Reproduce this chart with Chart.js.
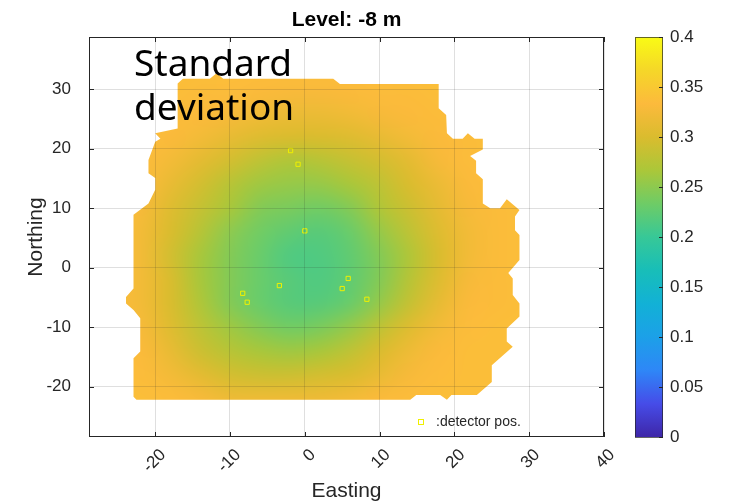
<!DOCTYPE html>
<html>
<head>
<meta charset="utf-8">
<script src="https://cdn.jsdelivr.net/npm/chart.js@4/dist/chart.umd.min.js"></script>
<style>
  html, body { margin: 0; padding: 0; background: #fff; }
  #chart { display: block; }
</style>
</head>
<body>
<canvas id="chart" width="731" height="504"></canvas>
<script>
// --- DATA ---
const eastingTicks = [-20, -10, 0, 10, 20, 30, 40];
const northingTicks = [-20, -10, 0, 10, 20, 30];
const colorTicks = [0, 0.05, 0.1, 0.15, 0.2, 0.25, 0.3, 0.35, 0.4];

// detector positions (m)
const detectorEasting  = [-1.9, -0.9, 0.0, -3.4, -8.3, -7.7, 5.8, 5.0, 8.3];
const detectorNorthing = [19.7, 17.4, 6.2, -3.0, -4.3, -5.8, -1.8, -3.5, -5.3];

// standard deviation sampled on a 4 m grid (rows run north to south)
const gridEasting  = [-26, -22, -18, -14, -10, -6, -2, 2, 6, 10, 14, 18, 22, 26, 30];
const gridNorthing = [34, 30, 26, 22, 18, 14, 10, 6, 2, -2, -6, -10, -14, -18, -22, -26];
const stdRows = [
  [.338, .338, .338, .338, .338, .338, .338, .338, .338, .338, .338, .338, .338, .338, .338],
  [.338, .338, .338, .336, .335, .332, .33, .33, .332, .335, .336, .338, .338, .338, .338],
  [.338, .338, .336, .332, .328, .322, .318, .318, .322, .328, .332, .336, .338, .338, .338],
  [.338, .336, .332, .324, .314, .304, .30, .30, .304, .314, .324, .332, .336, .338, .338],
  [.338, .335, .324, .31, .295, .28, .27, .275, .285, .295, .31, .328, .335, .338, .338],
  [.338, .332, .315, .295, .275, .26, .255, .255, .265, .28, .30, .318, .332, .338, .338],
  [.336, .328, .305, .285, .265, .245, .24, .235, .245, .27, .29, .312, .328, .336, .338],
  [.336, .324, .30, .275, .25, .235, .225, .22, .23, .255, .28, .305, .324, .336, .338],
  [.336, .324, .295, .265, .245, .23, .215, .215, .225, .245, .27, .30, .324, .336, .338],
  [.336, .324, .30, .265, .245, .23, .22, .215, .225, .245, .275, .305, .328, .336, .338],
  [.336, .324, .30, .27, .245, .23, .22, .22, .23, .255, .285, .314, .332, .336, .338],
  [.336, .328, .305, .28, .26, .245, .235, .24, .255, .28, .305, .324, .335, .338, .338],
  [.338, .332, .315, .29, .275, .265, .26, .265, .28, .30, .32, .332, .338, .338, .338],
  [.338, .335, .324, .31, .295, .29, .29, .295, .30, .315, .328, .335, .338, .338, .338],
  [.338, .338, .335, .328, .32, .32, .32, .32, .324, .332, .335, .338, .338, .338, .338],
  [.338, .338, .338, .338, .338, .338, .338, .338, .338, .338, .338, .338, .338, .338, .338]
];

// outline of the covered area (easting, northing), clockwise from the north-west
const outlineEasting = [
  -17.0, -16.3, -12.7, -11.8, -10.9, 3.8, 4.7, 17.9, 17.9, 18.9, 19.0, 19.8, 21.1, 21.8,
  22.7, 23.8, 23.8, 22.1, 22.9, 22.9, 23.8, 23.8, 24.8, 26.1, 27.0, 28.7, 28.1, 28.1,
  28.7, 28.7, 27.2, 27.8, 27.8, 28.7, 28.7, 27.0, 27.0, 27.8, 25.0, 25.0, 23.0, 19.6,
  19.0, 18.1, 14.9, 14.1, -22.5, -22.9, -22.9, -22.0, -22.0, -22.9, -23.9, -23.9, -22.9,
  -22.9, -20.9, -20.0, -20.0, -20.9, -20.9, -20.0, -19.3, -20.0, -17.0
];
const outlineNorthing = [
  31.0, 31.8, 31.8, 32.7, 31.8, 31.8, 30.9, 30.9, 26.8, 25.7, 22.6, 21.7, 21.7, 22.6,
  21.7, 21.7, 19.9, 18.8, 18.0, 15.9, 14.9, 10.8, 10.0, 10.0, 11.5, 9.7, 8.6, 6.3,
  5.5, 1.3, -0.9, -1.8, -4.6, -6.0, -8.2, -10.2, -12.4, -13.3, -16.4, -19.2, -21.4, -21.4,
  -22.2, -21.4, -21.4, -22.2, -22.2, -21.7, -15.2, -14.1, -8.5, -7.1, -6.0, -4.9, -3.5,
  8.9, 10.8, 13.1, 15.1, 15.9, 18.1, 21.2, 21.7, 22.6, 23.4
];

// --- PARULA COLOUR MAP ---
const parulaStops = [
  [0.000, 62, 38, 168], [0.083, 70, 76, 232], [0.167, 46, 135, 247], [0.250, 28, 160, 232],
  [0.333, 18, 177, 214], [0.417, 24, 190, 184], [0.500, 55, 200, 151], [0.583, 110, 204, 102],
  [0.667, 171, 199, 57], [0.750, 218, 188, 46], [0.833, 252, 186, 60], [0.917, 245, 215, 40],
  [1.000, 249, 251, 21]
];
const cMin = 0, cMax = 0.4;

function parula(t) {
  t = Math.max(0, Math.min(1, t));
  for (let i = 1; i < parulaStops.length; i++) {
    const a = parulaStops[i - 1], b = parulaStops[i];
    if (t <= b[0]) {
      const f = (t - a[0]) / (b[0] - a[0]);
      return [1, 2, 3].map(k => Math.round(a[k] + (b[k] - a[k]) * f));
    }
  }
  return parulaStops[parulaStops.length - 1].slice(1);
}

const axisColor = '#262626';
const gridColor = 'rgba(38,38,38,0.15)';
const tickFont = { family: '"Liberation Sans", Arial, sans-serif', size: 17 };
const labelFont = { family: '"Liberation Sans", Arial, sans-serif', size: 21 };

// keep the plot box fixed: no extra room for overhanging tick labels
function noOverhang(s) {
  s.paddingTop = 0; s.paddingBottom = 0; s.paddingLeft = 0; s.paddingRight = 0;
}

// --- PLUGINS ---
const fieldPlugin = {
  id: 'stdField',
  beforeDatasetsDraw(chart) {
    const { ctx, chartArea, scales: { x, y } } = chart;
    const nx = gridEasting.length, ny = gridNorthing.length;
    const off = document.createElement('canvas');
    off.width = nx; off.height = ny;
    const octx = off.getContext('2d');
    const img = octx.createImageData(nx, ny);
    stdRows.forEach((row, j) => row.forEach((v, i) => {
      const [r, g, b] = parula((v - cMin) / (cMax - cMin));
      const p = (j * nx + i) * 4;
      img.data[p] = r; img.data[p + 1] = g; img.data[p + 2] = b; img.data[p + 3] = 255;
    }));
    octx.putImageData(img, 0, 0);

    const dx = (gridEasting[1] - gridEasting[0]) / 2;
    const dy = (gridNorthing[0] - gridNorthing[1]) / 2;
    const left = x.getPixelForValue(gridEasting[0] - dx);
    const right = x.getPixelForValue(gridEasting[nx - 1] + dx);
    const top = y.getPixelForValue(gridNorthing[0] + dy);
    const bottom = y.getPixelForValue(gridNorthing[ny - 1] - dy);

    ctx.save();
    ctx.beginPath();
    ctx.rect(chartArea.left, chartArea.top, chartArea.width, chartArea.height);
    ctx.clip();
    ctx.beginPath();
    outlineEasting.forEach((e, i) => {
      const px = x.getPixelForValue(e), py = y.getPixelForValue(outlineNorthing[i]);
      if (i === 0) ctx.moveTo(px, py); else ctx.lineTo(px, py);
    });
    ctx.closePath();
    ctx.clip();
    ctx.imageSmoothingEnabled = true;
    ctx.imageSmoothingQuality = 'high';
    ctx.drawImage(off, left, top, right - left, bottom - top);
    ctx.restore();
  }
};

const framePlugin = {
  id: 'frame',
  afterDraw(chart) {
    const { ctx, chartArea: ca, scales: { x, y, c } } = chart;
    ctx.save();

    // box and inward tick marks
    ctx.strokeStyle = axisColor;
    ctx.lineWidth = 1;
    ctx.strokeRect(Math.round(ca.left) + 0.5, Math.round(ca.top) + 0.5,
      Math.round(ca.width) - 1, Math.round(ca.height) - 1);
    ctx.beginPath();
    x.ticks.forEach(t => {
      const px = Math.round(x.getPixelForValue(t.value)) + 0.5;
      ctx.moveTo(px, ca.bottom); ctx.lineTo(px, ca.bottom - 5);
      ctx.moveTo(px, ca.top); ctx.lineTo(px, ca.top + 5);
    });
    y.ticks.forEach(t => {
      const py = Math.round(y.getPixelForValue(t.value)) + 0.5;
      ctx.moveTo(ca.left, py); ctx.lineTo(ca.left + 5, py);
      ctx.moveTo(ca.right, py); ctx.lineTo(ca.right - 5, py);
    });
    ctx.stroke();

    // title centred over the axes
    ctx.fillStyle = '#000';
    ctx.font = 'bold 21px "Liberation Sans", Arial, sans-serif';
    ctx.textAlign = 'center';
    ctx.textBaseline = 'middle';
    ctx.fillText('Level: -8 m', (ca.left + ca.right) / 2, 20);

    // caption in the upper-left corner
    ctx.font = '37px "Noto Sans", "Open Sans", sans-serif';
    ctx.textAlign = 'left';
    ctx.textBaseline = 'alphabetic';
    ctx.fillText('Standard', ca.left + 45, ca.top + 39);
    ctx.fillText('deviation', ca.left + 45, ca.top + 83);

    // colour bar
    const barLeft = ca.right + 31, barWidth = 28;
    const barTop = c.getPixelForValue(cMax), barBottom = c.getPixelForValue(cMin);
    const grad = ctx.createLinearGradient(0, barBottom, 0, barTop);
    parulaStops.forEach(s => grad.addColorStop(s[0], `rgb(${s[1]},${s[2]},${s[3]})`));
    ctx.fillStyle = grad;
    ctx.fillRect(barLeft, barTop, barWidth, barBottom - barTop);
    ctx.strokeStyle = 'rgba(38,38,38,0.7)';
    ctx.strokeRect(barLeft + 0.5, barTop + 0.5, barWidth - 1, barBottom - barTop);
    ctx.strokeStyle = axisColor;
    ctx.beginPath();
    c.ticks.forEach(t => {
      const py = Math.round(c.getPixelForValue(t.value)) + 0.5;
      ctx.moveTo(barLeft + barWidth, py); ctx.lineTo(barLeft + barWidth - 4, py);
    });
    ctx.stroke();

    // legend entry
    const lx = ca.right - 183, ly = ca.bottom - 15;
    ctx.strokeStyle = '#f0f000';
    ctx.strokeRect(lx - 2.5, ly - 2.5, 5, 5);
    ctx.fillStyle = axisColor;
    ctx.font = '14px "Liberation Sans", Arial, sans-serif';
    ctx.textBaseline = 'middle';
    ctx.fillText(':detector pos.', lx + 15, ly);

    ctx.restore();
  }
};

// --- CHART ---
const detectorPoints = detectorEasting.map((e, i) => ({ x: e, y: detectorNorthing[i] }));

new Chart(document.getElementById('chart'), {
  type: 'scatter',
  data: {
    datasets: [{
      label: ':detector pos.',
      data: detectorPoints,
      pointStyle: 'rect',
      pointRadius: 3,
      borderWidth: 1,
      borderColor: '#f0f000',
      backgroundColor: 'rgba(0,0,0,0)'
    }]
  },
  options: {
    responsive: false,
    animation: false,
    layout: { padding: { top: 37, left: 0, right: 0, bottom: 0 } },
    plugins: { legend: { display: false }, tooltip: { enabled: false } },
    scales: {
      x: {
        type: 'linear', position: 'bottom', min: -28.85, max: 40,
        afterBuildTicks: s => { s.ticks = eastingTicks.map(v => ({ value: v })); },
        afterFit: s => { s.height = 67; noOverhang(s); },
        grid: { z: 1, color: gridColor, drawTicks: false },
        border: { display: false },
        ticks: { minRotation: 45, maxRotation: 45, padding: 8, labelOffset: 8, color: axisColor, font: tickFont },
        title: { display: true, text: 'Easting', color: axisColor, font: labelFont, padding: { top: 0, bottom: 0 } }
      },
      y: {
        type: 'linear', position: 'left', min: -28.46, max: 38.8,
        afterBuildTicks: s => { s.ticks = northingTicks.map(v => ({ value: v })); },
        afterFit: s => { s.width = 89; noOverhang(s); },
        grid: { z: 1, color: gridColor, drawTicks: false },
        border: { display: false },
        ticks: { padding: 18, color: axisColor, font: tickFont },
        title: { display: true, text: 'Northing', color: axisColor, font: labelFont, padding: { top: 24, bottom: 0 } }
      },
      c: {
        type: 'linear', position: 'right', min: cMin, max: cMax,
        afterBuildTicks: s => { s.ticks = colorTicks.map(v => ({ value: v })); },
        afterFit: s => { s.width = 127; noOverhang(s); },
        grid: { display: false, drawTicks: false },
        border: { display: false },
        ticks: { padding: 66, color: axisColor, font: tickFont, callback: v => String(v) }
      }
    }
  },
  plugins: [fieldPlugin, framePlugin]
});
</script>
</body>
</html>
